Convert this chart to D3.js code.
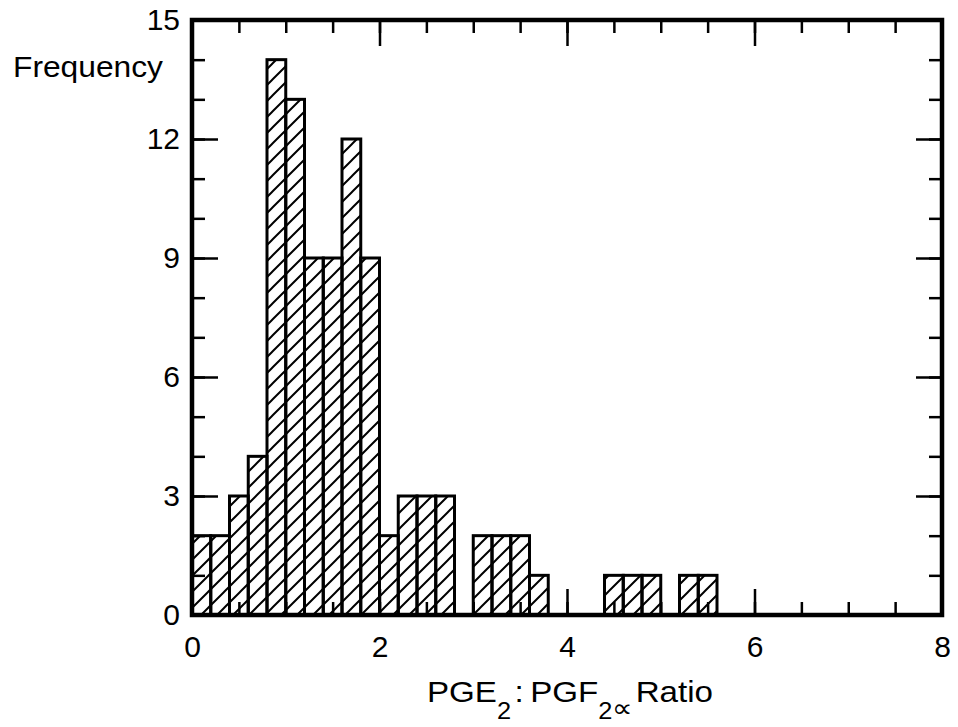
<!DOCTYPE html>
<html>
<head>
<meta charset="utf-8">
<script src="https://cdn.jsdelivr.net/npm/d3@7"></script>
<style>
  body { margin: 0; background: #fff; }
  text { font-family: "Liberation Sans", Arial, Helvetica, sans-serif; fill: #000; }
</style>
</head>
<body>
<div id="chart"></div>
<script>
// histogram bins (lower edge of each 0.2-wide bin) and their counts
var binLo = [0, 0.2, 0.4, 0.6, 0.8, 1.0, 1.2, 1.4, 1.6, 1.8, 2.0, 2.2, 2.4, 2.6,
             3.0, 3.2, 3.4, 3.6, 4.4, 4.6, 4.8, 5.2, 5.4];
var counts = [2, 2, 3, 4, 14, 13, 9, 9, 12, 9, 2, 3, 3, 3,
              2, 2, 2, 1, 1, 1, 1, 1, 1];
var binWidth = 0.2;

var xMajor = [0, 2, 4, 6, 8];
var xMinor = d3.range(0, 8.01, 0.5);
var yMajor = [0, 3, 6, 9, 12, 15];
var yMinor = d3.range(0, 16, 1);

var W = 958, H = 727;
var mLeft = 192, mRight = 942, mTop = 20, mBottom = 615;

var svg = d3.select("#chart")
  .append("svg")
  .attr("width", W)
  .attr("height", H);

var x = d3.scaleLinear().domain([0, 8]).range([mLeft, mRight]);
var y = d3.scaleLinear().domain([0, 15]).range([mBottom, mTop]);

// hatch pattern
var defs = svg.append("defs");
var pat = defs.append("pattern")
  .attr("id", "hatch")
  .attr("patternUnits", "userSpaceOnUse")
  .attr("width", 16)
  .attr("height", 16);
pat.append("path")
  .attr("d", "M-4,4 L4,-4 M0,16 L16,0 M12,20 L20,12")
  .attr("stroke", "#000")
  .attr("stroke-width", 2);

// bars
svg.selectAll("rect.bar")
  .data(binLo)
  .enter()
  .append("rect")
  .attr("class", "bar")
  .attr("x", function(d) { return x(d); })
  .attr("y", function(d, i) { return y(counts[i]); })
  .attr("width", function(d) { return x(d + binWidth) - x(d); })
  .attr("height", function(d, i) { return y(0) - y(counts[i]); })
  .attr("fill", "url(#hatch)")
  .attr("stroke", "#000")
  .attr("stroke-width", 3);

// ticks (all pointing inward)
function ticks(axis, pos, vals, len, labels) {
  var g = svg.append("g")
    .attr("transform", pos)
    .call(axis.tickValues(vals).tickSize(-len).tickPadding(labels ? 12 : 0)
      .tickFormat(labels ? d3.format("d") : ""));
  g.select(".domain").remove();
  g.selectAll(".tick line").attr("stroke", "#000").attr("stroke-width", 2.5);
  g.selectAll("text").style("font-size", "30px").attr("fill", "#000");
  return g;
}

ticks(d3.axisBottom(x), "translate(0," + mBottom + ")", xMinor, 13, false);
var bx = ticks(d3.axisBottom(x), "translate(0," + mBottom + ")", xMajor, 26, true);
bx.selectAll("text").attr("y", 21);
ticks(d3.axisTop(x), "translate(0," + mTop + ")", xMinor, 13, false);
ticks(d3.axisTop(x), "translate(0," + mTop + ")", xMajor, 26, false);

ticks(d3.axisLeft(y), "translate(" + mLeft + ",0)", yMinor, 13, false);
ticks(d3.axisLeft(y), "translate(" + mLeft + ",0)", yMajor, 26, true);
ticks(d3.axisRight(y), "translate(" + mRight + ",0)", yMinor, 13, false);
ticks(d3.axisRight(y), "translate(" + mRight + ",0)", yMajor, 26, false);

// frame
svg.append("rect")
  .attr("x", mLeft)
  .attr("y", mTop)
  .attr("width", mRight - mLeft)
  .attr("height", mBottom - mTop)
  .attr("fill", "none")
  .attr("stroke", "#000")
  .attr("stroke-width", 4.5);

// y label
svg.append("text")
  .attr("x", 13)
  .attr("y", 77)
  .attr("textLength", 150)
  .attr("lengthAdjust", "spacingAndGlyphs")
  .style("font-size", "29px")
  .text("Frequency");

// x label
var t = svg.append("text")
  .attr("x", 427)
  .attr("y", 702)
  .attr("textLength", 286)
  .attr("lengthAdjust", "spacingAndGlyphs")
  .style("font-size", "30px");
t.append("tspan").text("PGE");
t.append("tspan").attr("dy", 17).style("font-size", "23px").text("2");
t.append("tspan").attr("dy", -17).attr("dx", 3).text(":");
t.append("tspan").attr("dx", 6).text("PGF");
t.append("tspan").attr("dy", 17).style("font-size", "23px").text("2");
t.append("tspan").attr("dy", -2).style("font-size", "26px").text("\u221D");
t.append("tspan").attr("dy", -15).attr("dx", 2).text("Ratio");
</script>
</body>
</html>
